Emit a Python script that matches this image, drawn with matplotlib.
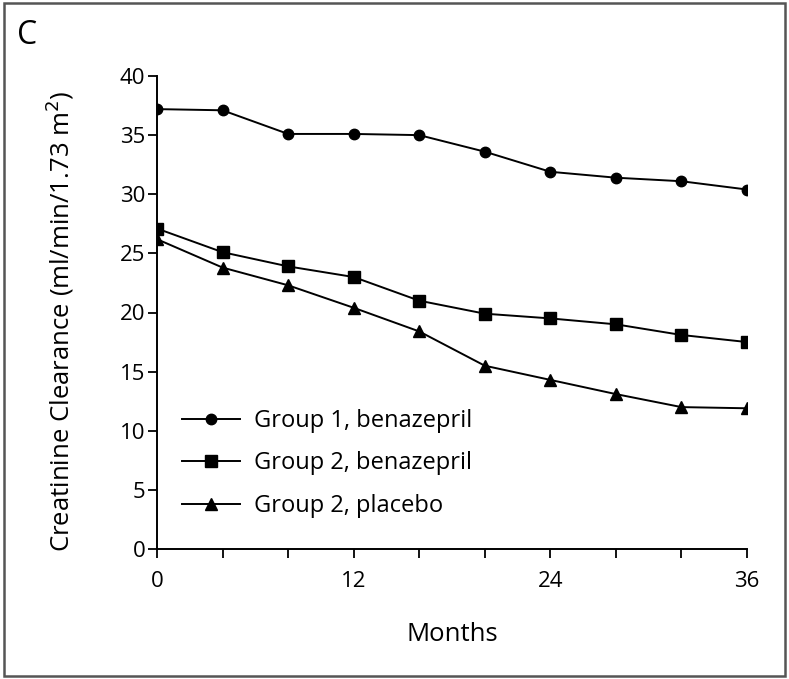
import matplotlib.pyplot as plt
from matplotlib.patches import Rectangle
from matplotlib.ticker import MultipleLocator

months = [0, 4, 8, 12, 16, 20, 24, 28, 32, 36]
group1_benazepril = [37.2, 37.1, 35.1, 35.1, 35.0, 33.6, 31.9, 31.4, 31.1, 30.4]
group2_benazepril = [27.1, 25.1, 23.9, 23.0, 21.0, 19.9, 19.5, 19.0, 18.1, 17.5]
group2_placebo = [26.2, 23.8, 22.3, 20.4, 18.4, 15.5, 14.3, 13.1, 12.0, 11.9]
labels = ['Group 1, benazepril', 'Group 2, benazepril', 'Group 2, placebo']

plt.rcParams['font.family'] = ['Open Sans', 'DejaVu Sans']

fig = plt.figure(figsize=(7.89, 6.79), dpi=100)
ax = fig.add_axes([157 / 789, 1 - 549 / 679, 590 / 789, 473 / 679])

# outer frame
fig.patches.append(Rectangle((0.005, 0.004), 0.99, 0.992, transform=fig.transFigure,
                             fill=False, edgecolor='#555555', linewidth=1.8))

ax.plot(months, group1_benazepril, color='black', lw=1.4, marker='o', ms=7.5, label=labels[0])
ax.plot(months, group2_benazepril, color='black', lw=1.4, marker='s', ms=8, label=labels[1])
ax.plot(months, group2_placebo, color='black', lw=1.4, marker='^', ms=8, label=labels[2])

ax.set_xlim(0, 36)
ax.set_ylim(0, 40)
ax.set_xticks([0, 12, 24, 36])
ax.xaxis.set_minor_locator(MultipleLocator(4))
ax.set_yticks(range(0, 41, 5))
ax.tick_params(axis='both', which='both', direction='out', length=6.5, width=1.3, labelsize=16)
ax.tick_params(axis='x', pad=9)
ax.tick_params(axis='y', pad=2)
for s in ['top', 'right']:
    ax.spines[s].set_visible(False)
for s in ['left', 'bottom']:
    ax.spines[s].set_linewidth(1.4)

ax.set_xlabel('Months', fontsize=18.5)
ax.xaxis.label.set_va('center')
ax.xaxis.set_label_coords(0.5, -0.18)
ax.set_ylabel('Creatinine Clearance (ml/min/1.73 m$^2$)', fontsize=18.5)
ax.yaxis.label.set_va('center')
ax.yaxis.set_label_coords(-0.164, 0.482)

ax.legend(loc='upper left', bbox_to_anchor=(182 / 789, 1 - 409 / 679),
          bbox_transform=fig.transFigure, frameon=False, fontsize=17,
          handlelength=2.45, handletextpad=0.6, labelspacing=0.78,
          borderpad=0, borderaxespad=0)

fig.text(17 / 789, 1 - 36 / 679, 'C', fontsize=23, va='center', ha='left')

fig.savefig('out.png', dpi=100)
